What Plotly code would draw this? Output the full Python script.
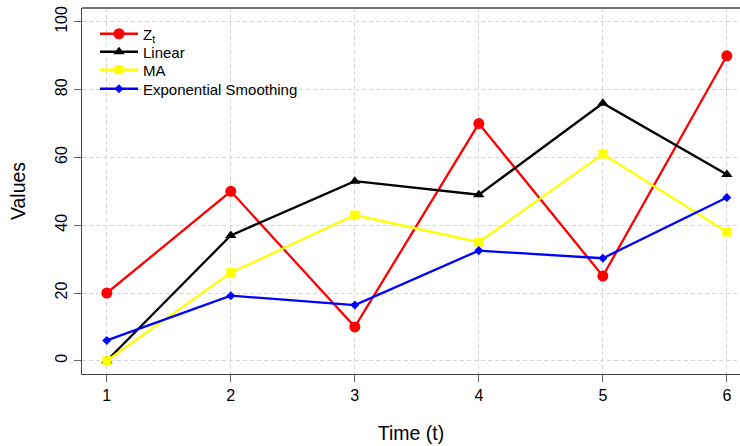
import plotly.graph_objects as go

t = [1, 2, 3, 4, 5, 6]
zt = [20, 50, 10, 70, 25, 90]
linear = [0, 37, 53, 49, 76, 55]
ma = [0, 26, 43, 35, 61, 38]
exp_s = [6, 19.2, 16.44, 32.51, 30.26, 48.18]

x_ticks = [1, 2, 3, 4, 5, 6]
y_ticks = [0, 20, 40, 60, 80, 100]

FONT = "Arial, Liberation Sans, sans-serif"

# plot area in pixels: top 8, bottom 374
def ypaper(py):
    return (374 - py) / 366.0

legend_rows = [34, 52, 70, 89]
legend_x = (95 - 82) / 658.0

series = [
    ("Z<sub>t</sub>", zt, "#ff0000", "circle", 11),
    ("Linear", linear, "#000000", "triangle-up", 10),
    ("MA", ma, "#ffff00", "square", 9),
    ("Exponential Smoothing", exp_s, "#0000ff", "diamond", 7),
]

fig = go.Figure()
legend_layouts = {}
for i, (name, vals, col, sym, sz) in enumerate(series):
    lname = "legend" if i == 0 else f"legend{i + 1}"
    fig.add_trace(go.Scatter(x=t, y=vals, mode="lines+markers", name=name,
                             line=dict(color=col, width=2.3),
                             marker=dict(symbol=sym, size=sz, color=col),
                             legend=lname))
    legend_layouts[lname] = dict(x=legend_x, y=ypaper(legend_rows[i]),
                                 xanchor="left", yanchor="middle",
                                 bgcolor="rgba(0,0,0,0)", borderwidth=0,
                                 font=dict(size=15, family=FONT, color="#000000"),
                                 itemwidth=38)

fig.update_layout(
    width=740, height=446,
    margin=dict(l=82, r=0, t=8, b=72),
    paper_bgcolor="white", plot_bgcolor="white",
    font=dict(family=FONT, color="#000000", size=15),
    showlegend=True,
    xaxis=dict(range=[0.8, 6.106], tickvals=x_ticks, ticktext=[str(v) for v in x_ticks],
               showgrid=True, gridcolor="#d6d6d6", griddash="4px,3px", gridwidth=1,
               zeroline=False, showline=True, linecolor="#444444", linewidth=1.3,
               ticks="outside", ticklen=7, tickcolor="#666666",
               tickfont=dict(size=16),
               title=dict(text="Time (t)", font=dict(size=19.5), standoff=23)),
    yaxis=dict(range=[-3.9, 104.1], tickvals=y_ticks, ticktext=[str(v) for v in y_ticks],
               showgrid=True, gridcolor="#d6d6d6", griddash="4px,3px", gridwidth=1,
               zeroline=False, showline=True, linecolor="#444444", linewidth=1.3,
               ticks="outside", ticklen=7, tickcolor="#666666",
               tickangle=-90, tickfont=dict(size=16),
               title=dict(text="Values", font=dict(size=19.5), standoff=22)),
    **legend_layouts,
)

fig.add_shape(type="line", xref="paper", yref="paper", x0=0, x1=1, y0=1, y1=1,
              line=dict(color="#444444", width=1.3))

fig.write_html("out.html")
